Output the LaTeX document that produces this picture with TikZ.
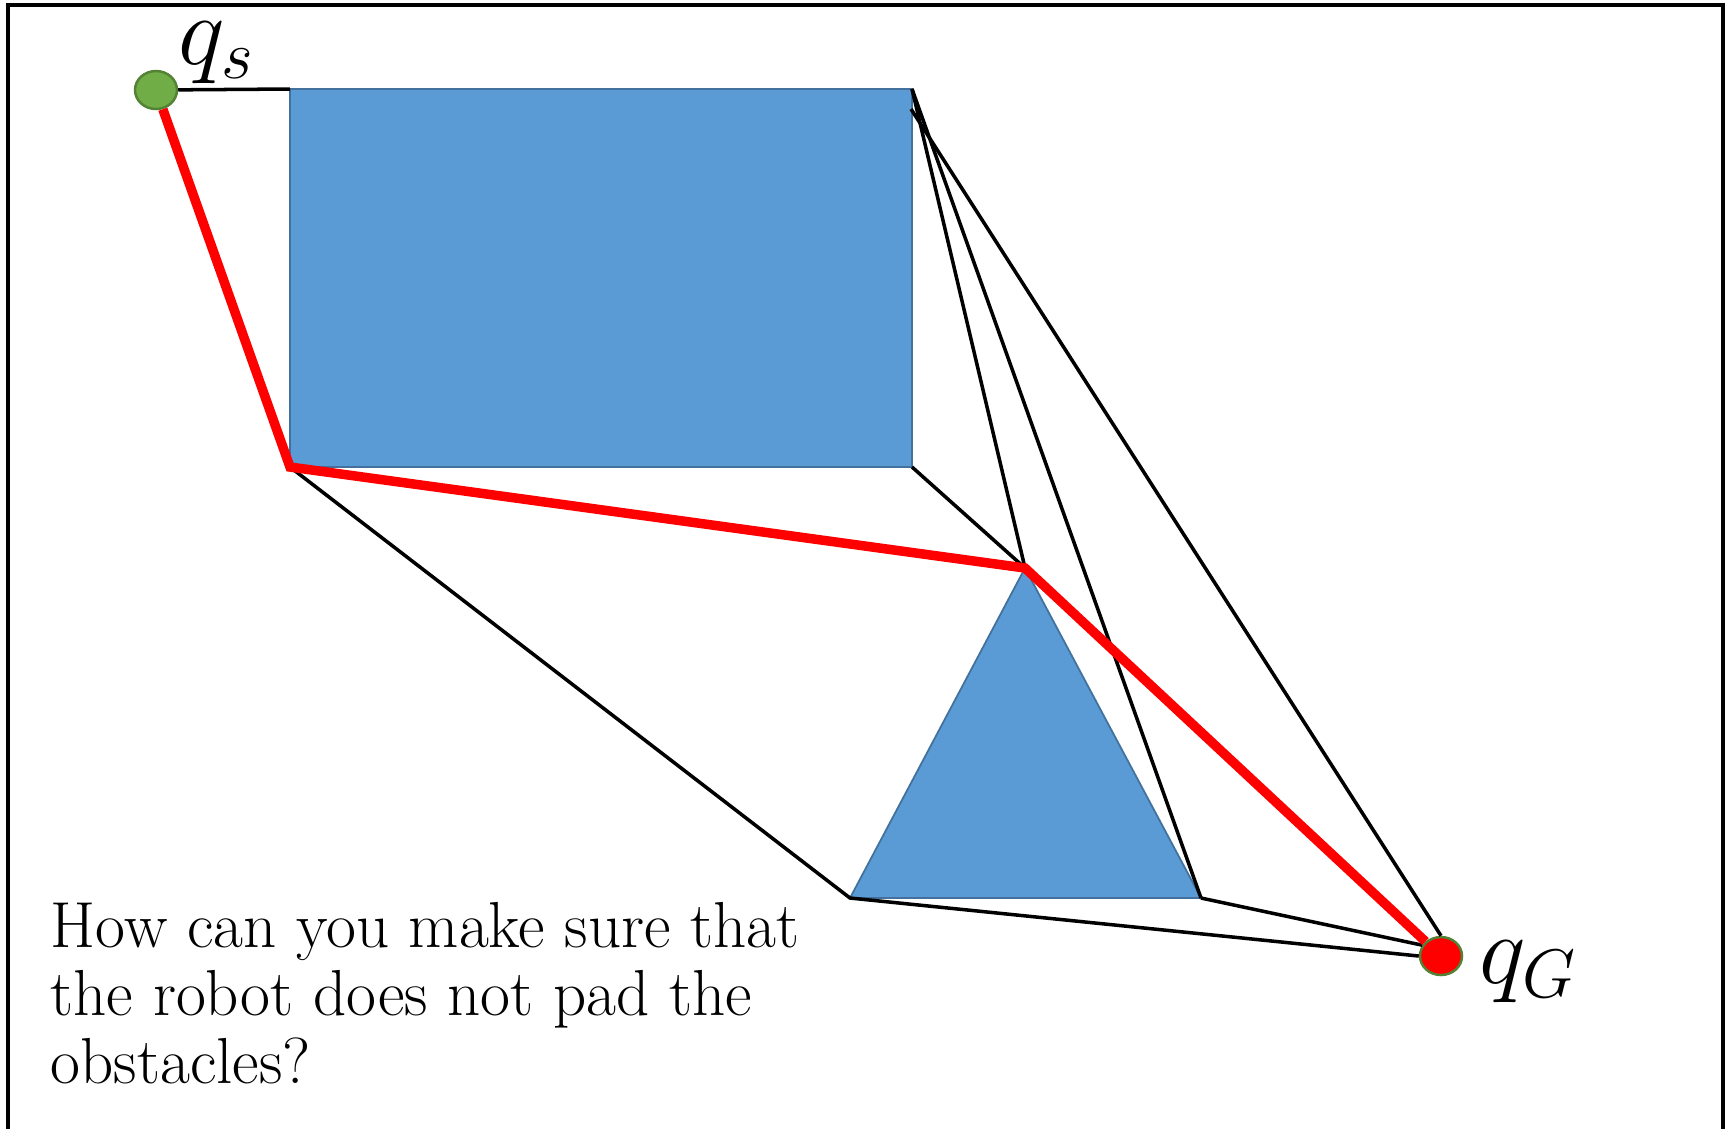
\documentclass[tikz,border=0pt]{standalone}
\usepackage{fontspec}
\usepackage{graphicx}
\usetikzlibrary{shapes.geometric}
\definecolor{ObstBlue}{RGB}{91,155,213}
\definecolor{ObstEdge}{RGB}{65,113,156}
\definecolor{StartGreen}{RGB}{112,173,71}
\definecolor{RimGreen}{RGB}{84,130,53}

\begin{document}
\begin{tikzpicture}[x=0.01cm, y=-0.01cm,
  obst/.style={fill=ObstBlue, draw=ObstEdge, line width=0.5pt},
  vis/.style={draw=black, line width=1pt},
  route/.style={draw=red, line width=2.7pt},
  config/.style={ellipse, draw=RimGreen, line width=0.7pt, minimum width=0.42cm,
                 minimum height=0.38cm, inner sep=0pt},
  lbl/.style={font=\fontsize{26}{30}\selectfont, inner sep=0pt, anchor=base west}]
  \useasboundingbox (0,0) rectangle (1731,1129);
  \draw[line width=0.9pt] (8,1129) -- (8,5) -- (1723,5) -- (1723,1129);

  % obstacle corners
  \coordinate (rtl) at (290,89);
  \coordinate (rtr) at (912,89);
  \coordinate (rbl) at (290,467);
  \coordinate (rbr) at (912,467);
  \coordinate (rhook) at (911,109);
  \coordinate (tapex) at (1025,568);
  \coordinate (tbl) at (850,898);
  \coordinate (tbr) at (1201,898);

  \path[obst] (rtl) rectangle (rbr);
  \path[obst] (tapex) -- (tbl) -- (tbr) -- cycle;

  \node[config, fill=StartGreen] (qs) at (156,90) {};
  \node[config, fill=red] (qg) at (1441,956) {};

  % visibility edges
  \draw[vis] (qs) -- (rtl);
  \draw[vis] (rtr) -- (tapex);
  \draw[vis] (rtr) -- (tbr);
  \draw[vis] (rhook) -- (qg.north);
  \draw[vis] (rbr) -- (tapex);
  \draw[vis] (rbl) -- (tbl) -- (qg.west);
  \draw[vis] (tbr) -- (qg.150);

  \draw[route] (qs) -- (rbl) -- (tapex) -- (qg);

  \node[lbl] (qslbl) at (178,64) {\scalebox{1.13}{$q_s$}};
  \node[lbl] (qglbl) at (1479,983) {\scalebox{1.13}{$q_G$}};
  \node[anchor=north west, align=left, inner sep=0pt,
        font=\fontsize{18.5}{19.3}\selectfont] (question) at (50,902)
        {How can you make sure that\\ the robot does not pad the\\ obstacles?};
\end{tikzpicture}
\end{document}
